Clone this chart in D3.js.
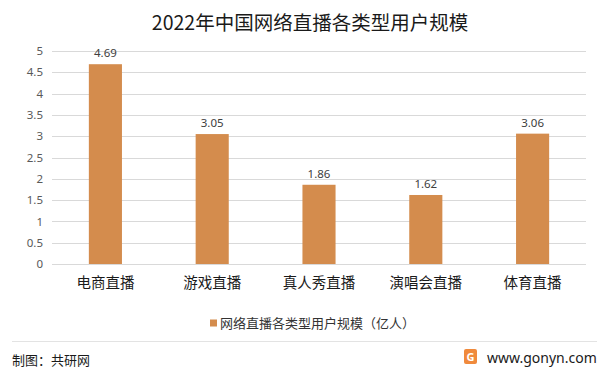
<!DOCTYPE html>
<html>
<head>
<meta charset="utf-8">
<script src="https://cdn.jsdelivr.net/npm/d3@7"></script>
<style>
  body { margin: 0; background: #fff; }
  text { font-family: "Noto Sans CJK SC", "Microsoft YaHei", sans-serif; }
</style>
</head>
<body>
<div class="chart"></div>
<script>
// data
var categories = ["电商直播", "游戏直播", "真人秀直播", "演唱会直播", "体育直播"];
var userScale = [4.69, 3.05, 1.86, 1.62, 3.06];
var yTicks = [0, 0.5, 1, 1.5, 2, 2.5, 3, 3.5, 4, 4.5, 5];

var svgWidth = 601;
var svgHeight = 368;

var margin = { top: 51, right: 15, bottom: 104, left: 52 };
var width = svgWidth - margin.left - margin.right;
var height = svgHeight - margin.top - margin.bottom;

var svg = d3.select(".chart")
  .append("svg")
  .attr("width", svgWidth)
  .attr("height", svgHeight);

// title
svg.append("text")
  .attr("x", 310)
  .attr("y", 30)
  .attr("text-anchor", "middle")
  .attr("font-size", 19.5)
  .attr("fill", "#1a1a1a")
  .text("2022年中国网络直播各类型用户规模");

var chartGroup = svg.append("g")
  .attr("transform", `translate(${margin.left}, ${margin.top})`);

var xScale = d3.scaleBand()
  .domain(categories)
  .range([0, width])
  .paddingInner(0.69)
  .paddingOuter(0.345);

var yScale = d3.scaleLinear()
  .domain([0, 5])
  .range([height, 0]);

// gridlines
chartGroup.append("g")
  .selectAll("line")
  .data(yTicks)
  .enter()
  .append("line")
  .attr("x1", 0)
  .attr("x2", width)
  .attr("y1", d => Math.round(yScale(d)) + 0.5)
  .attr("y2", d => Math.round(yScale(d)) + 0.5)
  .attr("stroke", "#d9d9d9")
  .attr("stroke-width", 1);

// y axis labels
var leftAxis = d3.axisLeft(yScale)
  .tickValues(yTicks)
  .tickFormat(d => d)
  .tickSize(0)
  .tickPadding(9);
var yAxis = chartGroup.append("g").call(leftAxis);
yAxis.select(".domain").remove();
yAxis.selectAll("text")
  .attr("font-size", 11.5)
  .attr("fill", "#595959")
  .style("font-family", "'Noto Sans', sans-serif");

// bars
chartGroup.selectAll("rect.bar")
  .data(userScale)
  .enter()
  .append("rect")
  .attr("class", "bar")
  .attr("x", (d, i) => xScale(categories[i]))
  .attr("y", d => yScale(d))
  .attr("width", xScale.bandwidth())
  .attr("height", d => height - yScale(d))
  .attr("fill", "#D48C4D");

// value labels
chartGroup.selectAll("text.val")
  .data(userScale)
  .enter()
  .append("text")
  .attr("class", "val")
  .attr("x", (d, i) => xScale(categories[i]) + xScale.bandwidth() / 2)
  .attr("y", d => yScale(d) - 7)
  .attr("text-anchor", "middle")
  .attr("font-size", 11.5)
  .attr("fill", "#404040")
  .style("font-family", "'Noto Sans', sans-serif")
  .text(d => d.toFixed(2));

// x axis labels
var bottomAxis = d3.axisBottom(xScale).tickSize(0).tickPadding(14);
var xAxis = chartGroup.append("g")
  .attr("transform", `translate(0, ${height})`)
  .call(bottomAxis);
xAxis.select(".domain").remove();
xAxis.selectAll("text")
  .attr("font-size", 14.5)
  .attr("fill", "#1a1a1a");

// legend
var legend = svg.append("g")
  .attr("transform", "translate(210, 323)");
legend.append("rect")
  .attr("x", 0)
  .attr("y", -3.5)
  .attr("width", 7)
  .attr("height", 7)
  .attr("fill", "#D48C4D");
legend.append("text")
  .attr("x", 10)
  .attr("y", 0)
  .attr("dy", "0.35em")
  .attr("font-size", 13)
  .attr("fill", "#333")
  .text("网络直播各类型用户规模（亿人）");

// footer
svg.append("line")
  .attr("x1", 12)
  .attr("x2", 597)
  .attr("y1", 341.5)
  .attr("y2", 341.5)
  .attr("stroke", "#e3e3e3");

svg.append("text")
  .attr("x", 12)
  .attr("y", 365)
  .attr("font-size", 13)
  .attr("fill", "#1a1a1a")
  .text("制图：共研网");

// logo
var logo = svg.append("g").attr("transform", "translate(464, 349)");
logo.append("rect")
  .attr("width", 13)
  .attr("height", 15)
  .attr("rx", 2)
  .attr("fill", "#f08a3c");
logo.append("text")
  .attr("x", 6.5)
  .attr("y", 12)
  .attr("text-anchor", "middle")
  .attr("font-size", 11)
  .attr("font-weight", "bold")
  .attr("fill", "#fff")
  .style("font-family", "'Noto Sans', sans-serif")
  .text("G");

svg.append("text")
  .attr("x", 487)
  .attr("y", 363)
  .attr("font-size", 14)
  .attr("fill", "#1a1a1a")
  .style("font-family", "'Noto Sans', sans-serif")
  .text("www.gonyn.com");
</script>
</body>
</html>
